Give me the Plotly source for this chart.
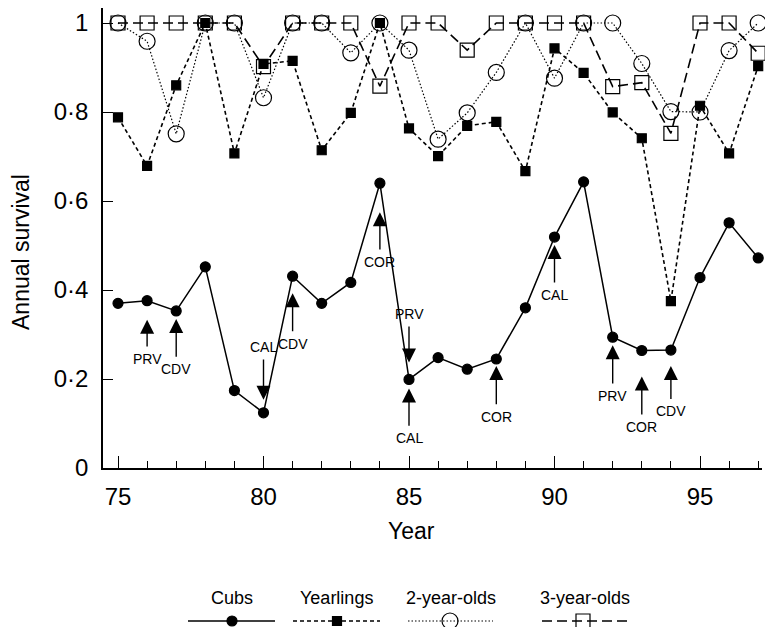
import plotly.graph_objects as go

years = list(range(75, 98))
cubs = [0.370, 0.376, 0.353, 0.452, 0.174, 0.124, 0.431, 0.370, 0.417, 0.640, 0.199,
        0.248, 0.222, 0.245, 0.360, 0.519, 0.643, 0.294, 0.264, 0.265, 0.428, 0.551, 0.472]
yearlings = [0.788, 0.679, 0.860, 1.0, 0.707, 0.908, 0.915, 0.714, 0.798, 1.0, 0.763,
             0.701, 0.769, 0.778, 0.667, 0.943, 0.888, 0.799, 0.741, 0.375, 0.814, 0.707, 0.903]
two_year = [1.0, 0.959, 0.751, 1.0, 1.0, 0.832, 1.0, 1.0, 0.933, 1.0, 0.939,
            0.739, 0.798, 0.889, 1.0, 0.876, 1.0, 1.0, 0.909, 0.801, 0.800, 0.938, 1.0]
three_year = [1.0, 1.0, 1.0, 1.0, 1.0, 0.902, 1.0, 1.0, 1.0, 0.858, 1.0,
              1.0, 0.939, 1.0, 1.0, 1.0, 1.0, 0.857, 0.866, 0.752, 1.0, 1.0, 0.932]

y_tick_vals = [0, 0.2, 0.4, 0.6, 0.8, 1.0]
y_tick_text = ["0", "0·2", "0·4", "0·6", "0·8", "1"]
x_tick_vals = [75, 80, 85, 90, 95]
x_tick_text = ["75", "80", "85", "90", "95"]

# events: (year, label, arrow direction, label value, arrow standoff px)
events = [
    (76, "PRV", "up", 0.245, 19),
    (77, "CDV", "up", 0.222, 8),
    (80, "CAL", "down", 0.272, 13),
    (81, "CDV", "up", 0.279, 17),
    (84, "COR", "up", 0.463, 29),
    (85, "PRV", "down", 0.346, 17),
    (85, "CAL", "up", 0.067, 9),
    (88, "COR", "up", 0.115, 7),
    (90, "CAL", "up", 0.389, 8),
    (92, "PRV", "up", 0.162, 8),
    (93, "COR", "up", 0.092, 26),
    (94, "CDV", "up", 0.127, 16),
]

series = [
    ("Cubs", cubs, "solid", 1.5, "circle", 10),
    ("Yearlings", yearlings, "4px,3px", 1.6, "square", 9),
    ("2-year-olds", two_year, "1.5px,2px", 1.2, "circle-open", 16),
    ("3-year-olds", three_year, "10px,5px", 1.6, "square-open", 14),
]

FONT = "Liberation Sans, Arial, Helvetica, sans-serif"
W, H = 765, 627
ML, MR, MT, MB = 103, 3, 8, 0
PW = W - ML - MR
PH = H - MT - MB
x_axis_px = 468
px_per_year = 29.1
x75_px = 118
px_per_unit = 445

fig = go.Figure()
for name, vals, dash, lw, sym, ms in series:
    fig.add_trace(go.Scatter(
        x=years, y=vals, mode="lines+markers", name=name,
        line=dict(color="black", width=lw, dash=dash),
        marker=dict(symbol=sym, size=ms, color="black",
                    line=dict(color="black", width=1.2)),
        cliponaxis=False, showlegend=False,
    ))

# custom legend (text above line samples) on a helper axis in pixel units
legend_items = [
    ("Cubs", 188, 275, 232),
    ("Yearlings", 293, 380, 337),
    ("2-year-olds", 408, 493, 450),
    ("3-year-olds", 542, 628, 583),
]
leg_h = 93
for (name, vals, dash, lw, sym, ms), (lab, x0, x1, xm) in zip(series, legend_items):
    fig.add_trace(go.Scatter(
        x=[x0, x1], y=[H - 621, H - 621], mode="lines",
        line=dict(color="black", width=lw, dash=dash),
        xaxis="x2", yaxis="y2", showlegend=False, hoverinfo="skip", cliponaxis=False,
    ))
    fig.add_trace(go.Scatter(
        x=[xm], y=[H - 621], mode="markers",
        marker=dict(symbol=sym, size=ms, color="black", line=dict(color="black", width=1.2)),
        xaxis="x2", yaxis="y2", showlegend=False, hoverinfo="skip", cliponaxis=False,
    ))
    fig.add_annotation(x=(x0 + x1) / 2, y=H - 598, xref="x2", yref="y2", text=lab,
                       xanchor="center", yanchor="middle",
                       showarrow=False, font=dict(size=18, color="black", family=FONT))

annotations = []
for yr, lab, direction, lab_y, stand in events:
    cub_v = cubs[years.index(yr)]
    annotations.append(dict(
        x=yr, y=cub_v, xref="x", yref="y", axref="x", ayref="y",
        ax=yr, ay=lab_y, text=lab, showarrow=True,
        arrowhead=2, arrowsize=2.0, arrowwidth=1.4, arrowcolor="black",
        standoff=stand, startstandoff=3,
        font=dict(size=14, color="black", family=FONT),
    ))

x_range = [75 - (x75_px - ML) / px_per_year, 75 + (W - MR - x75_px) / px_per_year]
y_range = [0, (x_axis_px - MT) / px_per_unit]
main_bottom = (H - x_axis_px) / PH

def paper_x(px):
    return (px - ML) / PW

def paper_y(py):
    return (H - py) / PH

annotations.append(dict(x=paper_x(21), y=paper_y(252), xref="paper", yref="paper",
                        xanchor="center", yanchor="middle",
                        text="Annual survival", textangle=-90, showarrow=False,
                        font=dict(size=23, color="black", family=FONT)))
annotations.append(dict(x=paper_x(411), y=paper_y(531), xref="paper", yref="paper",
                        xanchor="center", yanchor="middle",
                        text="Year", showarrow=False,
                        font=dict(size=23, color="black", family=FONT)))

for a in annotations:
    fig.add_annotation(**a)

fig.update_layout(
    template="none",
    width=W, height=H,
    margin=dict(l=ML, r=MR, t=MT, b=MB, pad=0, autoexpand=False),
    paper_bgcolor="white", plot_bgcolor="white",
    font=dict(family=FONT, color="black"),
    showlegend=False,
    xaxis=dict(
        domain=[0, 1], range=x_range, tickvals=x_tick_vals, ticktext=x_tick_text,
        ticks="inside", ticklen=12, tickwidth=1.2, tickcolor="black",
        minor=dict(dtick=1, tick0=75, ticks="inside", ticklen=7, tickwidth=1, tickcolor="black"),
        showline=True, linecolor="black", linewidth=1.5, showgrid=False, zeroline=False,
        tickfont=dict(size=24, color="black", family=FONT), ticklabelstandoff=6,
        anchor="y", automargin=False,
    ),
    yaxis=dict(
        domain=[main_bottom, 1], range=y_range, tickvals=y_tick_vals, ticktext=y_tick_text,
        ticks="inside", ticklen=10, tickwidth=1.2, tickcolor="black",
        showline=True, linecolor="black", linewidth=1.5, showgrid=False, zeroline=False,
        tickfont=dict(size=24, color="black", family=FONT), ticklabelstandoff=8,
        anchor="x", automargin=False,
    ),
    xaxis2=dict(domain=[0, 1], range=[ML, W - MR], visible=False, anchor="y2", automargin=False),
    yaxis2=dict(domain=[0, leg_h / PH], range=[0, leg_h], visible=False, anchor="x2", automargin=False),
)

fig.write_html("out.html", config={"displayModeBar": False},
               post_script="document.body.style.margin='0';document.body.style.overflow='hidden';")
